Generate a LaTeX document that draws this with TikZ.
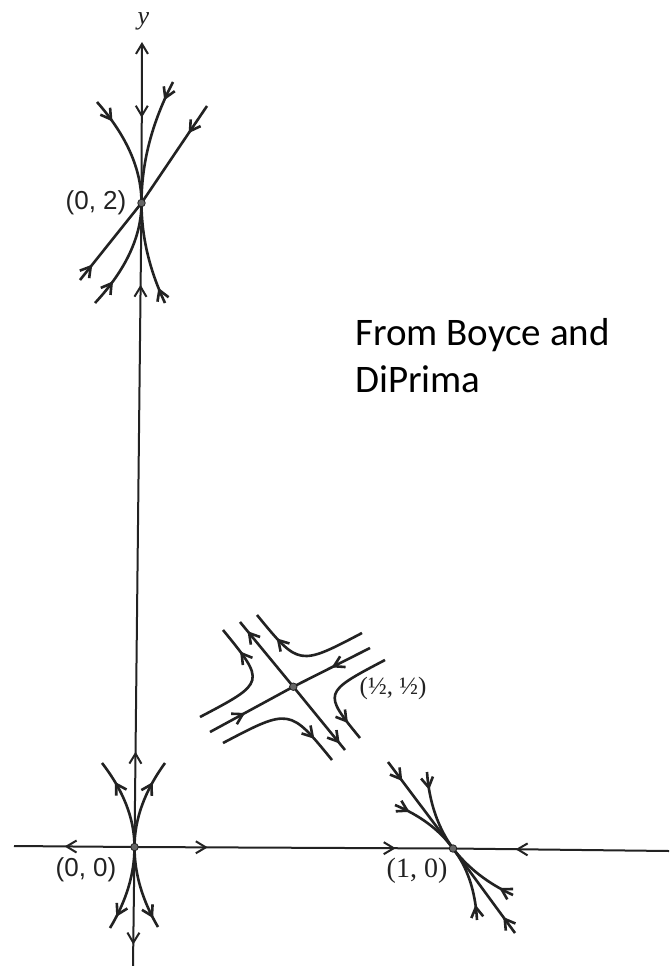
\documentclass[tikz,border=0pt]{standalone}
\usepackage{fontspec}
\usetikzlibrary{arrows.meta,decorations.markings}
\newfontfamily\calfont{Carlito}
\newfontfamily\sanslab{Liberation Sans}
\newfontfamily\seriflab{Liberation Serif}
\definecolor{ink}{HTML}{222222}
\begin{document}
\begin{tikzpicture}[x=1pt,y=-1pt,
  traj/.style={draw=ink, line width=2.6pt},
  axisline/.style={draw=ink, line width=2pt},
  fl/.style={postaction={decorate,decoration={markings,mark=at position #1 with {\arrow{Straight Barb[length=10pt,width=12pt]}}}}},
  dot/.style={circle, draw=ink, fill=gray!80!black, line width=0.8pt, inner sep=0pt, minimum size=7.5pt},
  lab/.style={text=ink, inner sep=0pt}]
\fill[white] (0,0) rectangle (669,966);
\useasboundingbox (0,0) rectangle (669,966);
% critical points and axis ends
\coordinate (N2) at (141.5,203);
\coordinate (N0) at (134.5,847);
\coordinate (N1) at (453,848.5);
\coordinate (S) at (293.3,686.7);
\coordinate (ytop) at (142,42);
\coordinate (ybot) at (133,966);
\coordinate (xl) at (14,846);
\coordinate (xr) at (669,851);
% axes
\draw[axisline, {Straight Barb[length=10pt,width=12pt]}-, fl=0.47] (ytop) -- (N2);
\draw[axisline, fl=0.148, fl=0.873] (N0) -- (N2);
\draw[axisline, fl=0.82] (N0) -- (ybot);
\draw[axisline, fl=0.58] (N0) -- (xl);
\draw[axisline, fl=0.23, fl=0.82] (N0) -- (N1);
\draw[axisline, fl=0.71] (xr) -- (N1);
% node at (0,2)
\coordinate (a1) at (97,102);
\coordinate (a2) at (173,82);
\coordinate (a3) at (207,106);
\coordinate (a4) at (80,280);
\coordinate (a5) at (95,303);
\coordinate (a6) at (165,303);
\draw[traj, fl=0.22] (a1) .. controls (126.7,135.7) and (141.5,169.3) .. (N2);
\draw[traj, fl=0.16] (a2) .. controls (152,122.3) and (141.5,162.7) .. (N2);
\draw[traj, fl=0.28] (a3) -- (N2);
\draw[traj, fl=0.2] (a4) -- (N2);
\draw[traj, fl=0.25] (a5) .. controls (126,269.7) and (141.5,236.3) .. (N2);
\draw[traj, fl=0.16] (a6) .. controls (149.3,269.7) and (141.5,236.3) .. (N2);
% node at (0,0)
\coordinate (c1) at (102,763);
\coordinate (c2) at (165,763);
\coordinate (c3) at (110,928);
\coordinate (c4) at (158,927);
\draw[traj, fl=0.75] (N0) .. controls (134.5,819) and (123.7,791) .. (c1);
\draw[traj, fl=0.75] (N0) .. controls (134.5,819) and (144.7,791) .. (c2);
\draw[traj, fl=0.85] (N0) .. controls (134.5,874) and (126.3,901) .. (c3);
\draw[traj, fl=0.88] (N0) .. controls (134.5,873.7) and (142.3,900.3) .. (c4);
% node at (1,0)
\coordinate (d1) at (388,762);
\coordinate (d2) at (515,933);
\coordinate (e1) at (427,772);
\coordinate (e2) at (395,805);
\coordinate (e3) at (477,920);
\coordinate (e4) at (513,895);
\draw[traj, fl=0.22] (d1) -- (N1);
\draw[traj, fl=0.19] (d2) -- (N1);
\draw[traj, fl=0.22] (e1) .. controls (429.1,802.3) and (438,827.8) .. (N1);
\draw[traj, fl=0.22] (e2) .. controls (419.9,815.3) and (439.4,829.7) .. (N1);
\draw[traj, fl=0.2] (e3) .. controls (475.4,891.3) and (467.6,867.4) .. (N1);
\draw[traj, fl=0.2] (e4) .. controls (488,883.5) and (468,867.9) .. (N1);
% saddle at (1/2,1/2)
\coordinate (sA) at (210,732);
\coordinate (sB) at (370,648);
\coordinate (uA) at (240,622);
\coordinate (uB) at (345,750);
\draw[traj, fl=0.42] (sA) -- (S);
\draw[traj, fl=0.5] (sB) -- (S);
\draw[traj, fl=0.86] (S) -- (uA);
\draw[traj, fl=0.9] (S) -- (uB);
\coordinate (hL1) at (200,717);
\coordinate (hL2) at (223,630);
\coordinate (hT1) at (362,633);
\coordinate (hT2) at (257,615);
\coordinate (hR1) at (385,660);
\coordinate (hR2) at (360,738);
\coordinate (hB1) at (223,743);
\coordinate (hB2) at (332,760);
\draw[traj, fl=0.78] (hL1) .. controls (265.8,682.4) and (265.8,682.4) .. (hL2);
\draw[traj, fl=0.76] (hT1) .. controls (298.9,666.2) and (298.9,666.2) .. (hT2);
\draw[traj, fl=0.83] (hR1) .. controls (322.9,692.6) and (322.9,692.6) .. (hR2);
\draw[traj, fl=0.79] (hB1) .. controls (289.6,708) and (289.6,708) .. (hB2);
% dots
\node[dot] (p02) at (N2) {};
\node[dot] (p00) at (N0) {};
\node[dot] (p10) at (N1) {};
\node[dot] (phh) at (S) {};
% labels
\node[lab, font=\seriflab\itshape\fontsize{26}{26}\selectfont] (ly) at (143.5,21) {y};
\node[lab, font=\sanslab\fontsize{26}{26}\selectfont] (l02) at (96,203) {(0, 2)};
\node[lab, font=\sanslab\fontsize{26}{26}\selectfont] (l00) at (86,870) {(0, 0)};
\node[lab, font=\seriflab\fontsize{28}{28}\selectfont] (l10) at (417,871) {(1, 0)};
\node[lab, font=\seriflab\fontsize{25}{25}\selectfont] (lhh) at (393,688) {(½, ½)};
\node[anchor=base west, inner sep=0pt, font=\calfont\fontsize{39}{47}\selectfont] (t1) at (355,345) {From Boyce and};
\node[anchor=base west, inner sep=0pt, font=\calfont\fontsize{39}{47}\selectfont] (t2) at (355,392) {DiPrima};
\end{tikzpicture}
\end{document}
